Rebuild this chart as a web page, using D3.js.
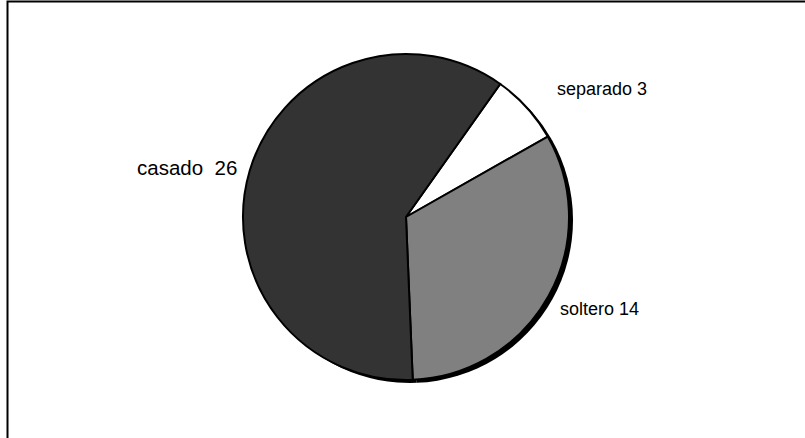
<!DOCTYPE html>
<html><head><meta charset="utf-8">
<script src="https://cdn.jsdelivr.net/npm/d3@7"></script>
<style>body{margin:0;background:#fff}svg{display:block}</style>
</head><body>
<script>
const categories = ["separado", "soltero", "casado"];
const values = [3, 14, 26];
const labels = ["separado 3", "soltero 14", "casado  26"];
const colors = ["#ffffff", "#808080", "#333333"];

const W = 805, H = 438;
const svg = d3.select("body").append("svg").attr("width", W).attr("height", H);

svg.append("rect").attr("x", 7.5).attr("y", 1.5).attr("width", 1000).attr("height", 1000)
  .attr("fill", "none").attr("stroke", "#000").attr("stroke-width", 2);

const cx = 406, cy = 217, r = 163;
const start = 35.3 * Math.PI / 180;
const pie = d3.pie().sort(null).startAngle(start).endAngle(start + 2 * Math.PI);
const arcs = pie(values);
const arc = d3.arc().innerRadius(0).outerRadius(r);

const g = svg.append("g").attr("transform", `translate(${cx},${cy})`);
// shadow
g.append("g").attr("transform", "translate(4,3)")
  .selectAll("path").data(arcs).join("path")
  .attr("d", arc).attr("fill", "#000");
g.selectAll("path.slice").data(arcs).join("path").attr("class", "slice")
  .attr("d", arc)
  .attr("fill", (d, i) => colors[i])
  .attr("stroke", "#000").attr("stroke-width", 2).attr("stroke-linejoin", "miter");

const labelPos = [[557, 95], [560, 315], [137, 175]];
const labelSize = [18, 18, 20.5];
svg.selectAll("text.lbl").data(labels).join("text").attr("class", "lbl")
  .attr("x", (d, i) => labelPos[i][0]).attr("y", (d, i) => labelPos[i][1])
  .attr("font-family", "Liberation Sans, Arial, sans-serif")
  .attr("font-size", (d, i) => labelSize[i])
  .attr("fill", "#000").style("white-space", "pre")
  .text(d => d);
</script>
</body></html>
